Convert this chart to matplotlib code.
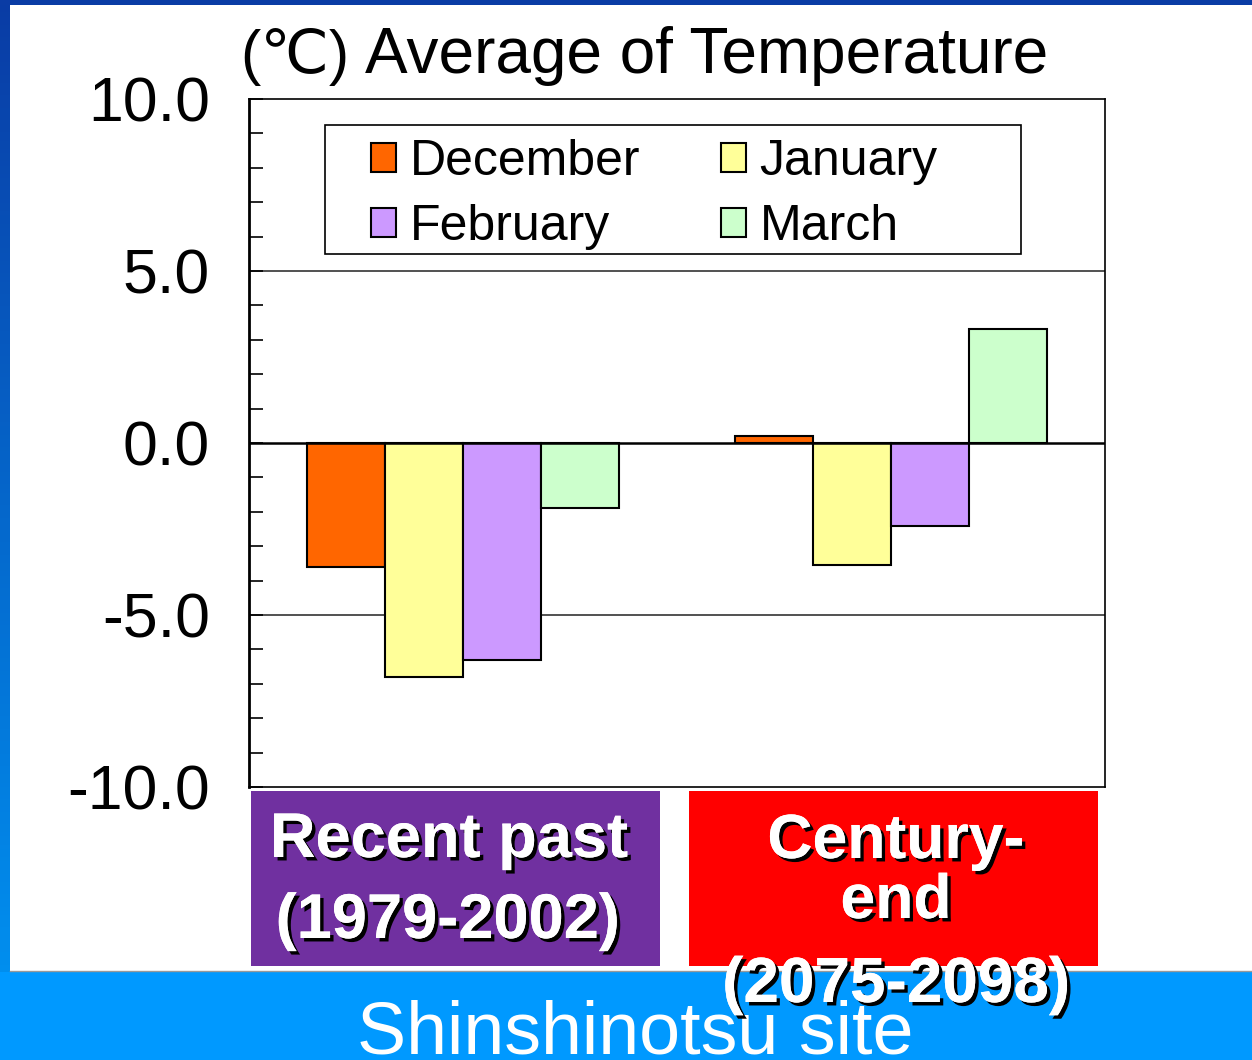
import numpy as np
import matplotlib
matplotlib.use("Agg")
import matplotlib.pyplot as plt
import matplotlib.patheffects as pe
from matplotlib.patches import Rectangle
from matplotlib.ticker import MultipleLocator

plt.rcParams["font.family"] = ["Liberation Sans", "DejaVu Sans"]

# data
periods = ["Recent past", "Century-end"]
months = ["December", "January", "February", "March"]
colors = ["#FF6600", "#FFFF99", "#CC99FF", "#CCFFCC"]
dec = [-3.6, 0.2]
jan = [-6.8, -3.55]
feb = [-6.3, -2.4]
mar = [-1.9, 3.3]
values = [dec, jan, feb, mar]

W, H = 1252, 1060
fig = plt.figure(figsize=(W / 100, H / 100), dpi=100, facecolor="white")

# background in pixel coords (y down)
bg = fig.add_axes([0, 0, 1, 1], zorder=0)
bg.set_xlim(0, W)
bg.set_ylim(H, 0)
bg.axis("off")
grad = np.linspace(0, 1, 256).reshape(-1, 1)
cmap = matplotlib.colors.LinearSegmentedColormap.from_list("edge", ["#0A3CA5", "#0096F5"])
bg.imshow(grad, cmap=cmap, extent=(0, 10, H, 0), aspect="auto")
bg.add_patch(Rectangle((0, 0), W, 5, color="#0A3CA5", lw=0))
bg.add_patch(Rectangle((0, 972), W, H - 972, color="#0099FF", lw=0))
bg.plot([10, W], [971, 971], color="#999999", lw=1)
bg.set_xlim(0, W)
bg.set_ylim(H, 0)

bg.add_patch(Rectangle((251, 791), 409, 175, color="#7030A0", lw=0))
bg.add_patch(Rectangle((689, 791), 409, 175, color="#FF0000", lw=0))

shadow = [pe.withSimplePatchShadow(offset=(2.5, -2.5), shadow_rgbFace="black", alpha=1.0), pe.Normal()]
lab = dict(color="white", fontweight="bold", ha="center", va="baseline",
           path_effects=shadow, zorder=5)
bg.text(449, 857, "Recent past", fontsize=45.5, **lab)
bg.text(448, 938, "(1979-2002)", fontsize=45.5, **lab)
bg.text(896, 858, "Century-", fontsize=45, **lab)
bg.text(896, 918, "end", fontsize=45, **lab)
bg.text(896, 1002, "(2075-2098)", fontsize=46, **lab)

bg.text(635, 1053, "Shinshinotsu site", color="white", fontsize=53, ha="center", va="baseline", zorder=4)

bg.text(240, 73, "(\u2103)", fontsize=44, ha="left", va="baseline")
bg.text(365, 73, "Average of Temperature", fontsize=46, ha="left", va="baseline")

# main chart
ax = fig.add_axes([249 / W, 273 / H, 856 / W, 688 / H], zorder=2)
ax.set_facecolor("white")
x = np.arange(len(periods))
bw = 0.182
bars = []
for i, (m, c, v) in enumerate(zip(months, colors, values)):
    bars.append(ax.bar(x + (i - 1.5) * bw, v, bw, color=c, edgecolor="black",
                       linewidth=1.5, label=m, zorder=3))

ax.set_xlim(-0.5, 1.5)
ax.set_ylim(-10, 10)
ax.set_xticks([])
ax.yaxis.set_major_locator(MultipleLocator(5))
ax.yaxis.set_minor_locator(MultipleLocator(1))
ax.set_yticklabels([f"{t:.1f}" for t in ax.get_yticks()])
ax.tick_params(axis="y", which="both", direction="in", length=10, width=1.2, labelsize=45, pad=28)
for y in (-5, 5):
    ax.axhline(y, color="#333333", lw=1.2, zorder=1)
ax.axhline(0, color="black", lw=1.8, zorder=4)
for s in ax.spines.values():
    s.set_linewidth(1.2)
ax.spines["left"].set_linewidth(2)

# legend: row-wise order (Dec, Jan / Feb, Mar) with column filling
order = [0, 2, 1, 3]
leg = ax.legend([bars[i] for i in order], [months[i] for i in order], ncol=2,
                loc="upper left", bbox_to_anchor=((371 - 249) / 856, (787 - 139) / 688),
                fontsize=36, frameon=False, handlelength=0.5, handleheight=0.5,
                handletextpad=0.28, labelspacing=0.38, columnspacing=1.6,
                borderpad=0, borderaxespad=0)
ax.add_patch(Rectangle(((325 - 249) / 856, (787 - 254) / 688), 696 / 856, 129 / 688,
                       transform=ax.transAxes, fill=False, edgecolor="black", lw=1.2, zorder=5))

fig.savefig("out.png", dpi=100, facecolor="white")
